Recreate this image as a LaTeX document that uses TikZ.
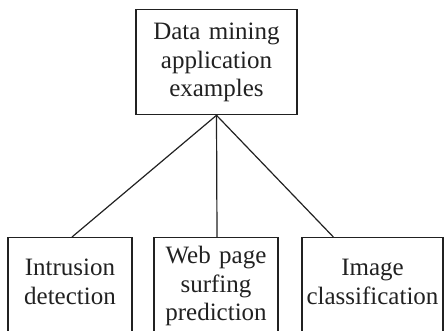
\documentclass[tikz,border=0pt]{standalone}
\usepackage{fontspec}
\setmainfont{Liberation Serif}
\usetikzlibrary{calc}
\definecolor{ink}{gray}{0.13}
\begin{document}
\begin{tikzpicture}[x=1pt,y=-1pt,
  box/.style={draw=ink, line width=1.3pt, text=ink, rectangle, inner sep=0pt,
    anchor=north, align=center,
    font=\fontsize{25}{28.5}\selectfont},
  link/.style={draw=ink, line width=1.2pt}]
  \useasboundingbox (0,0) rectangle (444,331);
  \clip (0,0) rectangle (444,331);
  % root of the tree
  \node[box, text width=161pt, text height=30pt, text depth=75pt]
    (root) at (216.5,9) {Data mining\\application\\examples};
  % example applications (boxes run past the lower edge)
  \node[box, text width=124pt, text height=38pt, text depth=110pt]
    (intr) at (70,237) {Intrusion\\detection};
  \node[box, text width=124pt, text height=26pt, text depth=110pt]
    (web) at (216,237) {Web page\\surfing\\prediction};
  \node[box, text width=141pt, text height=38pt, text depth=110pt]
    (img) at (372.5,237) {Image\\classification};
  % connector end points on the boxes' upper edges
  \coordinate (intrTop) at ($(intr.north)+(2,0)$);
  \coordinate (webTop) at ($(web.north)+(1,0)$);
  \coordinate (imgTop) at ($(img.north west)+(32,0)$);
  \draw[link] (root.south) -- (intrTop);
  \draw[link] (root.south) -- (webTop);
  \draw[link] (root.south) -- (imgTop);
\end{tikzpicture}
\end{document}
